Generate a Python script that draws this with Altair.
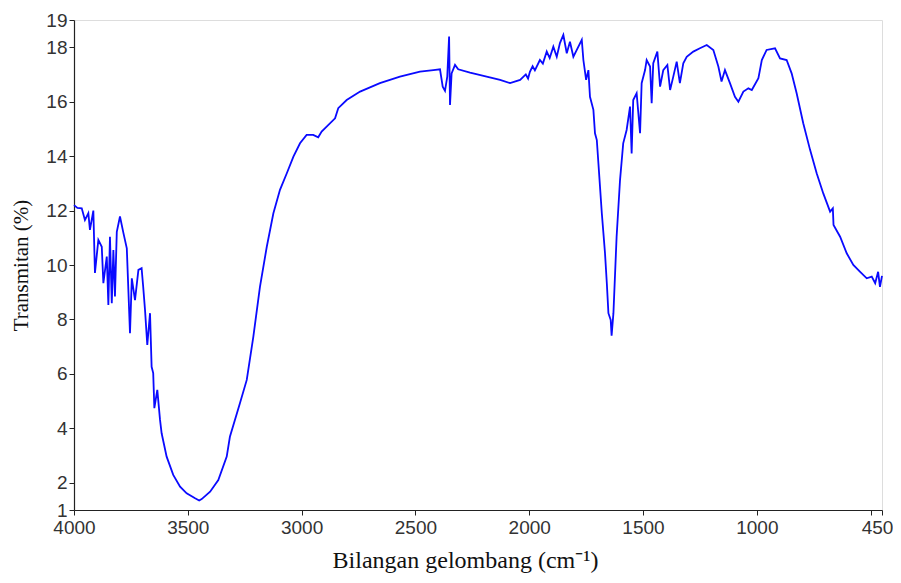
import altair as alt
import pandas as pd

# Wavenumber (cm-1) and transmittance (%)
wavenumber = [
    4000, 3985, 3966, 3952, 3937, 3930, 3915, 3908, 3893, 3878, 3871, 3856, 3849,
    3842, 3834, 3827, 3820, 3812, 3798, 3783, 3768, 3754, 3746, 3732, 3717, 3703,
    3696, 3688, 3678, 3666, 3659, 3652, 3647, 3634, 3622, 3615, 3593, 3564, 3534,
    3505, 3468, 3450, 3439, 3402, 3366, 3329, 3315, 3271, 3241, 3212, 3183, 3153,
    3124, 3095, 3065, 3036, 3007, 2978, 2949, 2927, 2912, 2890, 2853, 2839, 2802,
    2743, 2656, 2568, 2480, 2421, 2392, 2380, 2370, 2360, 2352, 2348, 2341, 2326,
    2312, 2260, 2187, 2128, 2084, 2040, 2015, 2005, 1997, 1985, 1975, 1953, 1940,
    1923, 1910, 1894, 1879, 1865, 1850, 1835, 1821, 1806, 1791, 1769, 1762, 1750,
    1740, 1733, 1718, 1711, 1703, 1696, 1689, 1681, 1674, 1667, 1659, 1652, 1642,
    1638, 1630, 1616, 1601, 1587, 1572, 1557, 1550, 1543, 1528, 1513, 1506, 1491,
    1484, 1469, 1462, 1455, 1437, 1425, 1411, 1393, 1381, 1367, 1352, 1338, 1323,
    1308, 1279, 1250, 1220, 1191, 1169, 1155, 1140, 1118, 1096, 1081, 1059, 1037,
    1022, 993, 978, 957, 920, 898, 869, 847, 825, 796, 766, 737, 708, 678, 666,
    663, 634, 605, 576, 546, 517, 495, 480, 467, 459, 450,
]
transmittance = [
    12.20, 12.10, 12.08, 11.65, 11.90, 11.29, 12.00, 9.71, 10.92, 10.67, 9.33, 10.31, 8.53,
    11.04, 8.60, 10.55, 8.84, 11.22, 11.78, 11.18, 10.61, 7.49, 9.51, 8.71, 9.82, 9.88,
    9.20, 8.35, 7.06, 8.23, 6.26, 6.03, 4.74, 5.41, 4.31, 3.82, 2.96, 2.29, 1.86,
    1.61, 1.43, 1.35, 1.40, 1.67, 2.10, 2.96, 3.69, 4.92, 5.78, 7.37, 9.20, 10.67,
    11.90, 12.76, 13.37, 13.98, 14.47, 14.78, 14.78, 14.69, 14.90, 15.08, 15.39, 15.76, 16.06,
    16.37, 16.68, 16.92, 17.10, 17.16, 17.19, 16.55, 16.40, 16.92, 18.39, 15.88, 17.04, 17.35,
    17.19, 17.07, 16.92, 16.80, 16.68, 16.80, 17.00, 16.85, 17.10, 17.30, 17.15, 17.53, 17.40,
    17.84, 17.60, 18.02, 17.65, 18.15, 18.45, 17.78, 18.20, 17.65, 17.90, 18.27, 17.53, 16.80,
    17.16, 16.18, 15.70, 14.84, 14.59, 13.74, 12.88, 11.90, 11.17, 10.43, 9.33, 8.23, 7.98,
    7.40, 8.23, 11.04, 13.12, 14.47, 14.96, 15.82, 14.10, 16.06, 16.31, 14.84, 16.68, 17.16,
    17.53, 17.29, 15.94, 17.41, 17.84, 16.55, 17.16, 17.35, 16.43, 16.92, 17.47, 16.68, 17.41,
    17.65, 17.84, 17.96, 18.08, 17.90, 17.29, 16.74, 17.16, 16.68, 16.18, 16.00, 16.37, 16.49,
    16.43, 16.86, 17.53, 17.90, 17.96, 17.59, 17.53, 17.04, 16.31, 15.21, 14.23, 13.37, 12.63, 11.96, 12.08,
    11.47, 11.04, 10.43, 10.00, 9.75, 9.51, 9.57, 9.33, 9.75, 9.20, 9.60,
]

x_ticks = [4000, 3500, 3000, 2500, 2000, 1500, 1000, 500, 450]
y_ticks = [1, 2, 4, 6, 8, 10, 12, 14, 16, 18, 19]

df = pd.DataFrame({"wn": wavenumber, "t": transmittance, "order": range(len(wavenumber))})

axis_common = dict(
    domainColor="#222222",
    domainWidth=1.2,
    tickColor="#222222",
    tickSize=5,
    tickWidth=1,
    grid=False,
    labelFont="Liberation Sans",
    labelFontSize=19,
    labelColor="#333333",
    titleFont="Liberation Serif",
    titleFontWeight="normal",
    titleColor="#111111",
    labelOverlap=False,
)

chart = (
    alt.Chart(df)
    .mark_line(color="#0a0aff", strokeWidth=1.8)
    .encode(
        x=alt.X(
            "wn:Q",
            scale=alt.Scale(domain=[450, 4000], reverse=True, nice=False, zero=False),
            axis=alt.Axis(
                values=x_ticks,
                format="d",
                labelExpr="datum.value == 500 ? '' : datum.label",
                labelFlush=False,
                labelPadding=3,
                labelOffset={"condition": {"test": "datum.value == 450", "value": -5}, "value": 0},
                title="Bilangan gelombang (cm⁻¹)",
                titleFontSize=24,
                titleX=391,
                titleY=57,
                titleAlign="center",
                titleBaseline="alphabetic",
                **axis_common,
            ),
        ),
        y=alt.Y(
            "t:Q",
            scale=alt.Scale(domain=[1, 19], nice=False, zero=False),
            axis=alt.Axis(
                values=y_ticks,
                format="d",
                labelPadding=2,
                title="Transmitan (%)",
                titleFontSize=21,
                titleAngle=270,
                titleX=-47,
                titleY=245,
                titleAlign="center",
                titleBaseline="alphabetic",
                **axis_common,
            ),
        ),
        order="order:Q",
    )
    .properties(
        width=808,
        height=490,
        autosize=alt.AutoSizeParams(type="none"),
        padding={"left": 66, "top": 12, "right": 11, "bottom": 65},
    )
    .configure_view(stroke=None)
    .configure(background="white")
)

chart.save("out.html", embed_options={"renderer": "svg", "actions": False})
